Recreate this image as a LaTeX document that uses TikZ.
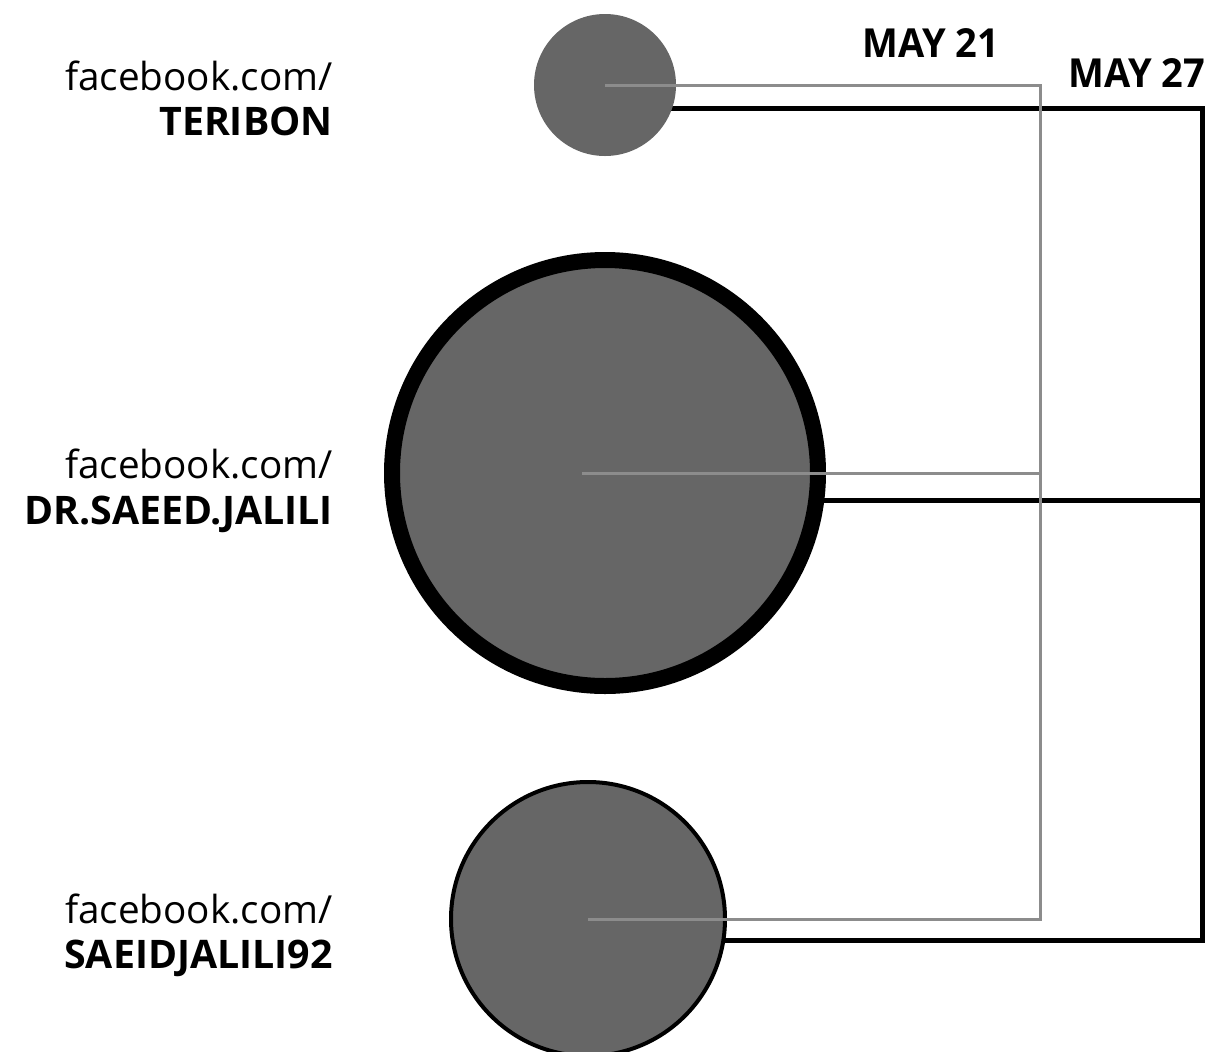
\documentclass[tikz,border=0pt]{standalone}
\usepackage{fontspec}
\setmainfont{Open Sans}
\usepackage{tikz}
\definecolor{fillgray}{HTML}{666666}
\definecolor{linegray}{HTML}{8C8C8C}
\tikzset{
	acct/.style={circle, fill=fillgray, inner sep=0pt},
	lab/.style={anchor=base east, inner sep=0pt, font=\fontsize{29pt}{31pt}\selectfont},
	labbold/.style={lab, font=\fontsize{29.5pt}{31pt}\selectfont\bfseries},
	datelab/.style={anchor=base west, inner sep=0pt, font=\fontsize{30pt}{32pt}\selectfont\addfontfeatures{FakeStretch=0.95}\bfseries},
	may21/.style={draw=linegray, line width=2.25pt},
	may27/.style={draw=black, line width=3.75pt}
}
\begin{document}
\begin{tikzpicture}[x=0.75pt, y=-0.75pt]
	\useasboundingbox (0,0) rectangle (1208,1051);
	\clip (0,0) rectangle (1208,1051);
	% corners of the two date lines
	\coordinate (b1) at (605,108);
	\coordinate (b2) at (605,500);
	\coordinate (b3) at (588,940);
	\coordinate (k1) at (1202,108);
	\coordinate (k2) at (1202,500);
	\coordinate (k3) at (1202,940);
	\coordinate (g1) at (1040,85);
	\coordinate (g2) at (1040,473);
	\coordinate (g3) at (1040,919);
	\coordinate (gs) at (582,473);
	% black line behind the circles
	\draw [may27] (b1) -- (k1) -- (k3) -- (b3);
	\draw [may27] (b2) -- (k2);
	% accounts
	\node [acct, minimum size=106.5pt] (teribon) at (605,85) {};
	\node [acct, draw=black, line width=12pt, minimum size=319.5pt] (jalili) at (605,473) {};
	\node [acct, draw=black, line width=3pt, minimum size=205.5pt] (jalili92) at (588,919) {};
	% grey line on top
	\draw [may21] (teribon.center) -- (g1) -- (g3) -- (jalili92.center);
	\draw [may21] (gs) -- (g2);
	% labels
	\node [lab] (t1) at (333,90) {facebook.com/};
	\node [labbold] (t2) at (333,135) {TERIBON};
	\node [lab] (j1) at (333,478) {facebook.com/};
	\node [labbold] (j2) at (333,524) {DR.SAEED.JALILI};
	\node [lab] (s1) at (333,923) {facebook.com/};
	\node [labbold] (s2) at (333,968) {SAEIDJALILI92};
	\node [datelab] (d21) at (862,57) {MAY 21};
	\node [datelab] (d27) at (1068,87) {MAY 27};
\end{tikzpicture}
\end{document}
